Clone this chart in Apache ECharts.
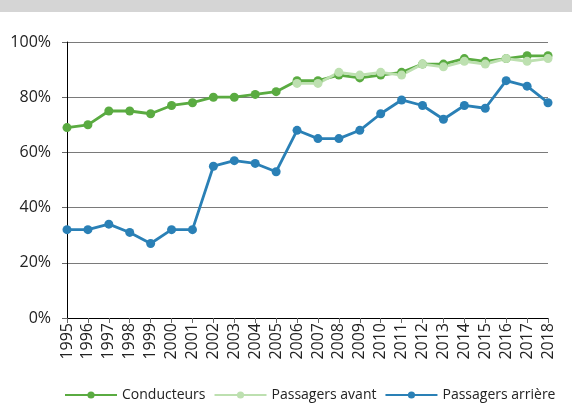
<!DOCTYPE html>
<html>
<head>
<meta charset="utf-8">
<script src="https://cdn.jsdelivr.net/npm/echarts@6/dist/echarts.min.js"></script>
<style>
  html, body { margin: 0; padding: 0; background: #fff; }
  #chart { width: 572px; height: 405px; }
</style>
</head>
<body>
<div id="chart"></div>
<script>
// années et taux (%)
var years = ['1995','1996','1997','1998','1999','2000','2001','2002','2003','2004','2005','2006',
             '2007','2008','2009','2010','2011','2012','2013','2014','2015','2016','2017','2018'];
var conducteurs = [69,70,75,75,74,77,78,80,80,81,82,86,86,88,87,88,89,92,92,94,93,94,95,95];
var passagersAvant = [null,null,null,null,null,null,null,null,null,null,null,85,85,89,88,89,88,92,91,93,92,94,93,94];
var passagersArriere = [32,32,34,31,27,32,32,55,57,56,53,68,65,65,68,74,79,77,72,77,76,86,84,78];

var font = '"Open Sans", "Noto Sans", sans-serif';

function serie(name, data, color) {
    return {
        name: name, type: 'line', data: data,
        symbol: 'circle', symbolSize: 9,
        lineStyle: {width: 2.8, color: color},
        itemStyle: {color: color},
        emphasis: {disabled: true}
    };
}

var chart = echarts.init(document.getElementById('chart'));
chart.setOption({
    animation: false,
    textStyle: {fontFamily: font},
    graphic: [{
        type: 'rect', left: 0, top: 0,
        shape: {width: 572, height: 12},
        style: {fill: '#d5d5d5'}
    }],
    grid: {left: 67, right: 24, top: 42, bottom: 87},
    legend: {
        top: 388, left: 64, width: 508, padding: 0,
        itemWidth: 52, itemHeight: 9, itemGap: 8,
        textStyle: {fontFamily: font, fontSize: 14, color: '#222'},
        data: ['Conducteurs', 'Passagers avant', 'Passagers arrière']
    },
    xAxis: {
        type: 'category', data: years, boundaryGap: false,
        axisLine: {lineStyle: {color: '#000', width: 1}},
        axisTick: {show: true, length: 5, lineStyle: {color: '#666'}},
        axisLabel: {rotate: 90, interval: 0, fontSize: 16, color: '#222', margin: 5, fontFamily: font}
    },
    yAxis: {
        type: 'value', min: 0, max: 100, interval: 20,
        axisLine: {show: true, lineStyle: {color: '#000', width: 1}},
        axisTick: {show: true, length: 5, lineStyle: {color: '#666'}},
        axisLabel: {formatter: '{value}%', fontSize: 16, color: '#222', margin: 16, fontFamily: font},
        splitLine: {lineStyle: {color: '#7a7a7a', width: 1.2}}
    },
    series: [
        serie('Conducteurs', conducteurs, '#5aab41'),
        serie('Passagers avant', passagersAvant, '#bde0b0'),
        serie('Passagers arrière', passagersArriere, '#2a80b6')
    ]
});
</script>
</body>
</html>
